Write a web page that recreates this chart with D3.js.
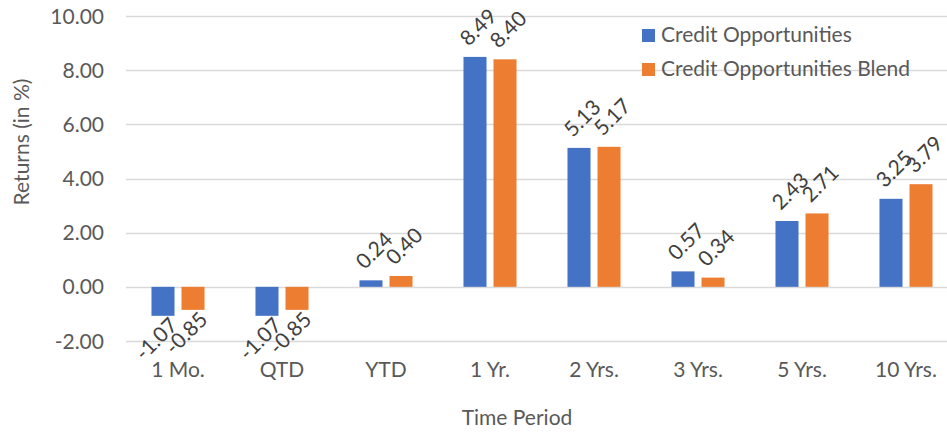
<!DOCTYPE html>
<html>
<head>
  <meta charset="utf-8">
  <title>Returns by Time Period</title>
  <script src="https://d3js.org/d3.v7.min.js"></script>
  <style>
    body { margin: 0; background: #fff; }
    text { font-family: Lato, "Open Sans", sans-serif; }
  </style>
</head>
<body>
  <div id="chart"></div>
  <script>
    // chart data
    var categories = ["1 Mo.", "QTD", "YTD", "1 Yr.", "2 Yrs.", "3 Yrs.", "5 Yrs.", "10 Yrs."];
    var seriesNames = ["Credit Opportunities", "Credit Opportunities Blend"];
    var creditOpp = [-1.07, -1.07, 0.24, 8.49, 5.13, 0.57, 2.43, 3.25];
    var creditBlend = [-0.85, -0.85, 0.40, 8.40, 5.17, 0.34, 2.71, 3.79];
    var yTicks = [-2, 0, 2, 4, 6, 8, 10];
    var colors = ["#4472C4", "#ED7D31"];

    var width = 947, height = 435;

    var svg = d3.select("#chart")
      .append("svg")
        .attr("width", width)
        .attr("height", height);

    // scales
    var x0 = d3.scaleBand()
      .domain(categories)
      .range([126, 958])
      .paddingInner(0.49)
      .paddingOuter(0.245);

    var x1 = d3.scaleBand()
      .domain(seriesNames)
      .range([0, x0.bandwidth()])
      .paddingInner(0.233);

    var y = d3.scaleLinear()
      .domain([-2, 10])
      .range([341, 16]);

    // gridlines
    svg.append("g")
      .selectAll("line")
      .data(yTicks)
      .enter()
      .append("line")
        .attr("x1", 126)
        .attr("x2", width)
        .attr("y1", function(d) { return Math.round(y(d)) + 0.5; })
        .attr("y2", function(d) { return Math.round(y(d)) + 0.5; })
        .style("stroke", "#D9D9D9")
        .style("stroke-width", 1.3);

    // y tick labels
    svg.append("g")
      .selectAll("text")
      .data(yTicks)
      .enter()
      .append("text")
        .attr("x", 104)
        .attr("y", function(d) { return y(d); })
        .attr("dy", "0.36em")
        .style("text-anchor", "end")
        .style("font-size", "21px")
        .style("fill", "#595959")
        .text(function(d) { return d.toFixed(2); });

    // bars
    var rows = categories.map(function(c, i) {
      return { cat: c, values: [creditOpp[i], creditBlend[i]] };
    });

    var groups = svg.append("g")
      .selectAll("g")
      .data(rows)
      .enter()
      .append("g")
        .attr("transform", function(d) { return "translate(" + x0(d.cat) + ",0)"; });

    var cells = groups.selectAll("g")
      .data(function(d) {
        return d.values.map(function(v, j) { return { name: seriesNames[j], value: v, idx: j }; });
      })
      .enter()
      .append("g");

    cells.append("rect")
        .attr("x", function(d) { return x1(d.name); })
        .attr("width", x1.bandwidth())
        .attr("y", function(d) { return y(Math.max(0, d.value)); })
        .attr("height", function(d) { return Math.abs(y(d.value) - y(0)); })
        .style("fill", function(d) { return colors[d.idx]; });

    // value labels, rotated
    cells.append("text")
        .attr("transform", function(d) {
          var cx = x1(d.name) + x1.bandwidth() / 2;
          var px, py;
          if (d.value >= 0) { px = cx + 3; py = y(d.value) - 30; }
          else { px = cx - 7; py = y(d.value) + 23; }
          return "translate(" + px + "," + py + ") rotate(-45)";
        })
        .attr("dy", "0.36em")
        .style("text-anchor", "middle")
        .style("font-size", "21px")
        .style("fill", "#404040")
        .text(function(d) { return d.value.toFixed(2); });

    // category labels
    svg.append("g")
      .selectAll("text")
      .data(categories)
      .enter()
      .append("text")
        .attr("x", function(d) { return x0(d) + x0.bandwidth() / 2; })
        .attr("y", 377)
        .style("text-anchor", "middle")
        .style("font-size", "21px")
        .style("fill", "#595959")
        .text(function(d) { return d; });

    // axis titles
    svg.append("text")
      .attr("transform", "translate(29,142) rotate(-90)")
      .style("text-anchor", "middle")
      .style("font-size", "21px")
      .style("fill", "#595959")
      .text("Returns (in %)");

    svg.append("text")
      .attr("x", 517)
      .attr("y", 425)
      .style("text-anchor", "middle")
      .style("font-size", "21px")
      .style("fill", "#595959")
      .text("Time Period");

    // legend
    var legend = svg.append("g")
      .selectAll("g")
      .data(seriesNames)
      .enter()
      .append("g")
        .attr("transform", function(d, i) { return "translate(642," + (29 + i * 34) + ")"; });

    legend.append("rect")
      .attr("width", 13)
      .attr("height", 13)
      .style("fill", function(d, i) { return colors[i]; });

    legend.append("text")
      .attr("x", 19)
      .attr("y", 13)
      .style("font-size", "21px")
      .style("fill", "#595959")
      .text(function(d) { return d; });
  </script>
</body>
</html>
